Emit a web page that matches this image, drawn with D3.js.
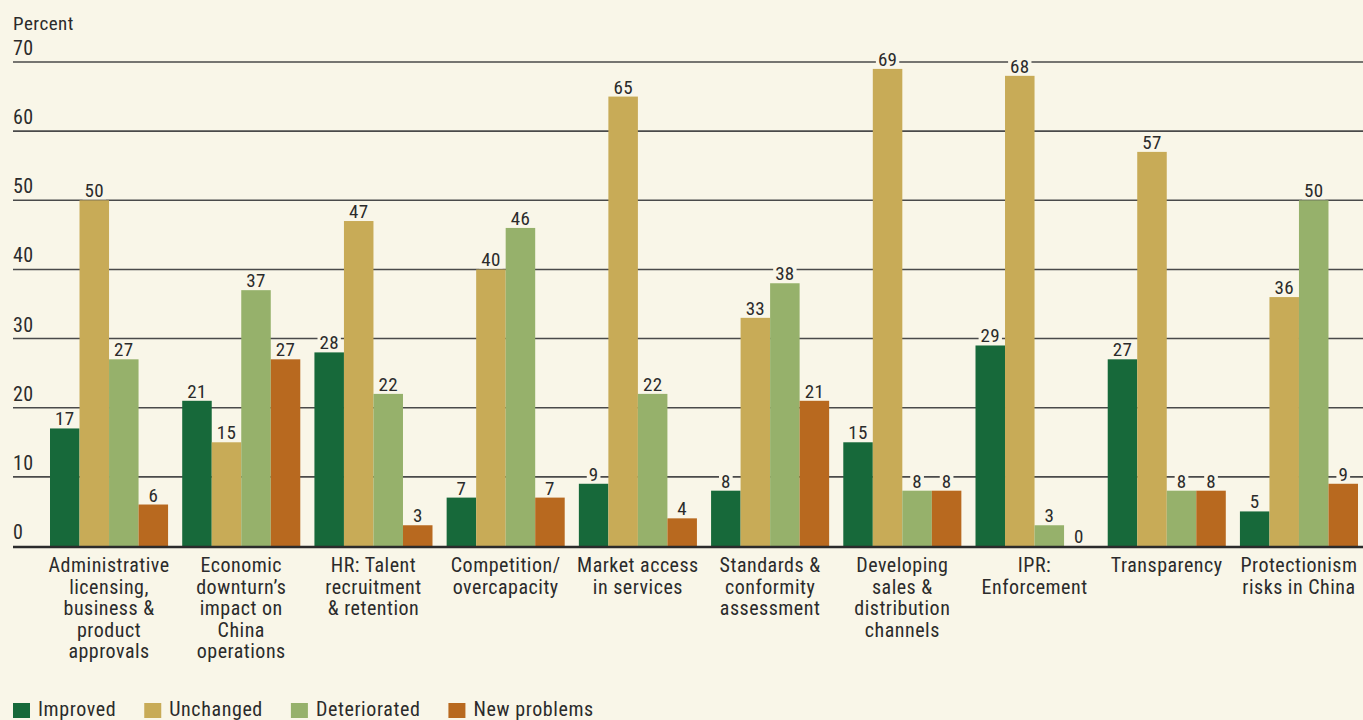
<!DOCTYPE html>
<html>
<head>
<meta charset="utf-8">
<script src="https://cdn.jsdelivr.net/npm/d3@7/dist/d3.min.js"></script>
<style>
  html, body { margin: 0; padding: 0; background: #f9f6e8; }
  svg { display: block; }
  text { font-family: "Liberation Sans Narrow", "Arial Narrow", "Roboto Condensed", "Liberation Sans", sans-serif; fill: #2b2b2b; }
</style>
</head>
<body>
<svg id="chart" width="1363" height="720"></svg>
<script>
// Survey categories (line breaks as printed under each group)
const categories = [
  ["Administrative", "licensing,", "business &", "product", "approvals"],
  ["Economic", "downturn\u2019s", "impact on", "China", "operations"],
  ["HR: Talent", "recruitment", "& retention"],
  ["Competition/", "overcapacity"],
  ["Market access", "in services"],
  ["Standards &", "conformity", "assessment"],
  ["Developing", "sales &", "distribution", "channels"],
  ["IPR:", "Enforcement"],
  ["Transparency"],
  ["Protectionism", "risks in China"]
];

const seriesNames = ["Improved", "Unchanged", "Deteriorated", "New problems"];
const improved     = [17, 21, 28, 7, 9, 8, 15, 29, 27, 5];
const unchanged    = [50, 15, 47, 40, 65, 33, 69, 68, 57, 36];
const deteriorated = [27, 37, 22, 46, 22, 38, 8, 3, 8, 50];
const newProblems  = [6, 27, 3, 7, 4, 21, 8, 0, 8, 9];
const seriesColors = ["#17693a", "#c8ab57", "#96b16b", "#b8691f"];
const yTicks = [0, 10, 20, 30, 40, 50, 60, 70];

const series = [improved, unchanged, deteriorated, newProblems];
const bg = "#f9f6e8";

const svg = d3.select("#chart");

const y = d3.scaleLinear().domain([0, 70]).range([546, 62]);
const x0 = d3.scaleBand().domain(d3.range(categories.length)).range([50, 1358]).paddingInner(0.107).paddingOuter(0);
const x1 = d3.scaleBand().domain(d3.range(seriesNames.length)).range([0, x0.bandwidth()]).padding(0);

// Horizontal gridlines with tick values above their left end
const grid = svg.append("g");
yTicks.filter(t => t > 0).forEach(t => {
  grid.append("line")
    .attr("x1", 13).attr("x2", 1363)
    .attr("y1", y(t)).attr("y2", y(t))
    .attr("stroke", "#4a4a4a").attr("stroke-width", 1.6);
});
yTicks.forEach(t => {
  grid.append("text")
    .attr("x", 13).attr("y", y(t) - 7)
    .attr("font-size", 20)
    .attr("letter-spacing", 0.4)
    .text(t);
});

svg.append("text").attr("x", 13).attr("y", 30)
  .attr("font-size", 19).attr("letter-spacing", 0.5).text("Percent");

// One group per category; layers keep knockouts under the bars
const groups = svg.append("g").selectAll("g")
  .data(categories)
  .join("g")
  .attr("transform", (d, i) => `translate(${x0(i)},0)`);

groups.each(function(d, i) {
  const g = d3.select(this);
  const knock = g.append("g");
  const bars = g.append("g");
  const labels = g.append("g");
  series.forEach((vals, s) => {
    const v = vals[i];
    const cx = x1(s) + x1.bandwidth() / 2;
    const ty = y(v) - 3;

    bars.append("rect")
      .attr("x", x1(s)).attr("width", x1.bandwidth())
      .attr("y", y(v)).attr("height", y(0) - y(v))
      .attr("fill", seriesColors[s]);

    const t = labels.append("text")
      .attr("x", cx).attr("y", ty)
      .attr("text-anchor", "middle")
      .attr("font-size", 19)
      .attr("letter-spacing", 0.3)
      .text(v);

    // cut the gridline around the value label
    const bb = t.node().getBBox();
    knock.append("rect")
      .attr("x", bb.x - 2).attr("y", bb.y + 2)
      .attr("width", bb.width + 4).attr("height", ty + 2 - (bb.y + 2))
      .attr("fill", bg);
  });
});

// Baseline
svg.append("line")
  .attr("x1", 13).attr("x2", 1363)
  .attr("y1", y(0) + 1).attr("y2", y(0) + 1)
  .attr("stroke", "#2b2b2b").attr("stroke-width", 2.5);

// Category labels
groups.each(function(lines, i) {
  const t = d3.select(this).append("text")
    .attr("text-anchor", "middle")
    .attr("font-size", 20)
    .attr("letter-spacing", 0.5)
    .attr("y", 572);
  lines.forEach((ln, k) => {
    t.append("tspan")
      .attr("x", x0.bandwidth() / 2)
      .attr("dy", k === 0 ? 0 : 21.5)
      .text(ln);
  });
});

// Legend: swatch, label, then a fixed gap before the next item
const legend = svg.append("g");
let lx = 13;
seriesNames.forEach((name, s) => {
  legend.append("rect")
    .attr("x", lx).attr("y", 703)
    .attr("width", 17).attr("height", 15)
    .attr("fill", seriesColors[s]);
  const t = legend.append("text")
    .attr("x", lx + 25).attr("y", 716)
    .attr("font-size", 20)
    .attr("letter-spacing", 0.6)
    .text(name);
  lx = lx + 25 + t.node().getComputedTextLength() + 28;
});
</script>
</body>
</html>
